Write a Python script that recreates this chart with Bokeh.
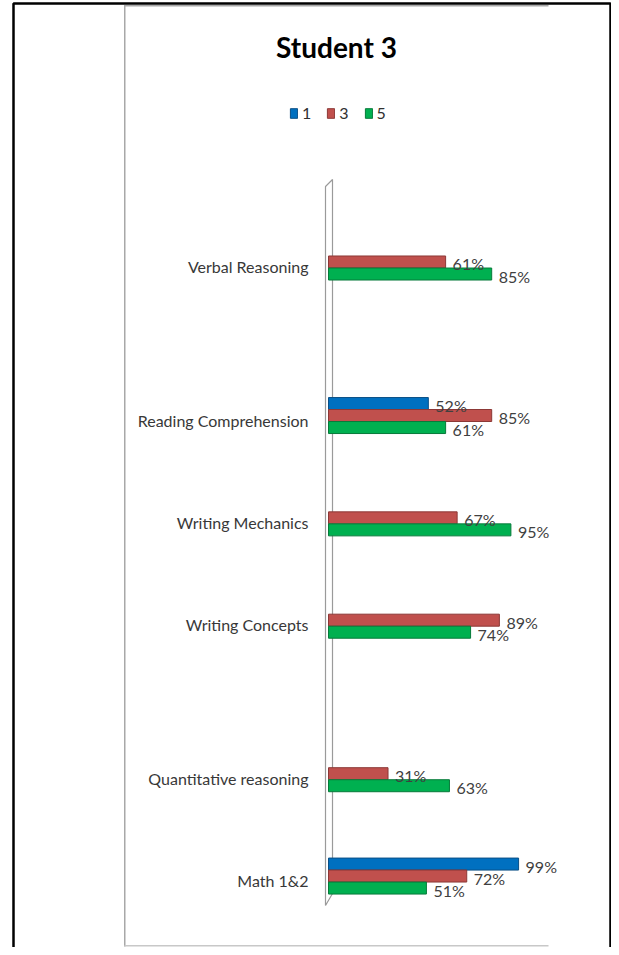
from bokeh.plotting import figure
from bokeh.models import (ColumnDataSource, Range1d, Legend, LegendItem,
                          BoxAnnotation, PolyAnnotation, Label)
from bokeh.transform import dodge
from bokeh.core.properties import value
from bokeh.embed import file_html
from bokeh.resources import INLINE

# ---------------- data ----------------
chart_title = "Student 3"
categories = ["Verbal Reasoning", "Reading Comprehension", "Writing Mechanics",
              "Writing Concepts", "Quantitative reasoning", "Math 1&2"]
# rows of the source sheet, top to bottom (None = blank spacer row)
rows = ["Verbal Reasoning", None, None, "Reading Comprehension", None,
        "Writing Mechanics", None, "Writing Concepts", None, None,
        "Quantitative reasoning", None, "Math 1&2"]
series_names = ["1", "3", "5"]
values_1 = [None, 52, None, None, None, 99]
values_3 = [61, 85, 67, 89, 31, 72]
values_5 = [85, 61, 95, 74, 63, 51]

# ---------------- layout / styling ----------------
W, H = 611, 947
X0_PX, PX_PER_PCT = 328, 1.92          # where 0 % sits, pixels per percent
Y0_PX, PX_PER_ROW = 266, 51.17         # centre of first row, pixels per row
FONT = "Lato"
colors = ["#0070C0", "#C0504D", "#00B050"]
edges = ["#0A4F86", "#8C3836", "#077A3A"]
offsets = [-0.322, -0.088, 0.147]      # in rows (positive = downwards)
bar_h = 0.2345


def sy(y):  # screen y measured from the top -> annotation units (from bottom)
    return H - y


p = figure(width=W, height=H,
           x_range=Range1d(-X0_PX / PX_PER_PCT, (W - X0_PX) / PX_PER_PCT),
           y_range=Range1d((H - Y0_PX) / PX_PER_ROW, -Y0_PX / PX_PER_ROW),
           output_backend="svg", toolbar_location=None,
           min_border=0, min_border_left=0, min_border_right=0,
           min_border_top=0, min_border_bottom=0,
           outline_line_color=None, background_fill_color="white",
           border_fill_color="white")
p.grid.visible = False
p.axis.visible = False


def sbox(**kw):
    return BoxAnnotation(left_units="screen", right_units="screen",
                         top_units="screen", bottom_units="screen", **kw)


# decorations: outer border, chart-area frame, thin 3-D wall
p.add_layout(sbox(left=13, right=610, top=sy(3), bottom=sy(1300),
                  fill_alpha=0, line_color="black", line_alpha=1, line_width=2.5))
p.add_layout(sbox(left=124, right=548, top=sy(4.5), bottom=sy(6),
                  fill_color="#a8a8a8", fill_alpha=1, line_alpha=0))
p.add_layout(sbox(left=123.5, right=125, top=sy(4.5), bottom=sy(946),
                  fill_color="#a8a8a8", fill_alpha=1, line_alpha=0))
p.add_layout(sbox(left=124, right=548, top=sy(944.5), bottom=sy(946),
                  fill_color="#c8c8c8", fill_alpha=1, line_alpha=0))
p.add_layout(PolyAnnotation(xs=[325, 332, 332, 325],
                            ys=[sy(186), sy(179), sy(893), sy(905)],
                            xs_units="screen", ys_units="screen",
                            fill_alpha=0, line_color="#9a9a9a", line_alpha=1,
                            line_width=1.2, level="underlay"))

row_index = {name: i for i, name in enumerate(rows) if name is not None}
cat_src = ColumnDataSource(dict(cat=categories,
                                row=[row_index[c] for c in categories],
                                zero=[0] * len(categories)))

all_values = [values_1, values_3, values_5]
items, sources = [], []
for name, vals, col, edge, off in zip(series_names, all_values, colors, edges, offsets):
    cats = [c for c, v in zip(categories, vals) if v is not None]
    vs = [v for v in vals if v is not None]
    src = ColumnDataSource(dict(row=[row_index[c] for c in cats], val=vs,
                                lbl=[f"{v}%" for v in vs]))
    r = p.hbar(y=dodge("row", off), left=0, right="val", height=bar_h,
               fill_color=col, line_color=edge, line_width=1, source=src)
    items.append(LegendItem(label=name, renderers=[r]))
    sources.append((src, off))

for src, off in sources:
    p.text(x="val", y=dodge("row", off), text="lbl",
           x_offset=7, y_offset=2, text_baseline="middle", text_align="left",
           text_font=value(FONT), text_font_size="16px", text_color="#404040",
           source=src)

# category labels
p.text(x="zero", y="row", text="cat", source=cat_src, x_offset=-20,
       text_align="right", text_baseline="middle", text_font=value(FONT),
       text_font_size="16px", text_color="#383838")

legend = Legend(items=items, orientation="horizontal", location=(289, sy(122)),
                glyph_width=9, glyph_height=12, label_height=12, label_width=9,
                label_standoff=4, spacing=15, padding=0, margin=0,
                label_text_font=FONT, label_text_font_size="16px",
                label_text_color="#303030",
                border_line_alpha=0, background_fill_alpha=0)
p.add_layout(legend, "center")

p.add_layout(Label(x=336, y=sy(46), x_units="screen", y_units="screen",
                   text=chart_title, text_align="center", text_baseline="middle",
                   text_font=FONT, text_font_size="28px", text_font_style="bold",
                   text_color="black"))

open("out.html", "w").write(file_html(p, INLINE))
